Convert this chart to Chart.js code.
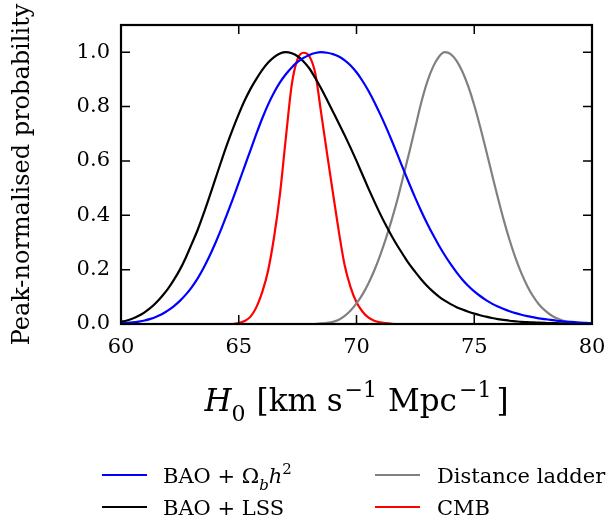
<!DOCTYPE html>
<html>
<head>
<meta charset="utf-8">
<script src="https://cdn.jsdelivr.net/npm/chart.js@4.4.0/dist/chart.umd.min.js"></script>
<style>
  html, body { margin: 0; padding: 0; background: #fff; }
</style>
</head>
<body>
<canvas id="h0-chart" width="608" height="523"></canvas>
<script>
// H0 grid (km/s/Mpc), 0.25 steps from 60 to 80
const h0Grid = [
  60.00, 60.25, 60.50, 60.75, 61.00, 61.25, 61.50, 61.75, 62.00, 62.25, 62.50, 62.75,
  63.00, 63.25, 63.50, 63.75, 64.00, 64.25, 64.50, 64.75, 65.00, 65.25, 65.50, 65.75,
  66.00, 66.25, 66.50, 66.75, 67.00, 67.25, 67.50, 67.75, 68.00, 68.25, 68.50, 68.75,
  69.00, 69.25, 69.50, 69.75, 70.00, 70.25, 70.50, 70.75, 71.00, 71.25, 71.50, 71.75,
  72.00, 72.25, 72.50, 72.75, 73.00, 73.25, 73.50, 73.75, 74.00, 74.25, 74.50, 74.75,
  75.00, 75.25, 75.50, 75.75, 76.00, 76.25, 76.50, 76.75, 77.00, 77.25, 77.50, 77.75,
  78.00, 78.25, 78.50, 78.75, 79.00, 79.25, 79.50, 79.75, 80.00
];

// peak-normalised probabilities
const baoOmegaB = [
  .003, .004, .006, .009, .013, .019, .027, .037, .050, .066, .085, .108,
  .135, .167, .205, .248, .296, .348, .403, .460, .520, .580, .640, .700,
  .757, .808, .852, .889, .919, .944, .964, .979, .990, .997, 1.00, .998,
  .993, .984, .970, .951, .926, .895, .859, .818, .773, .725, .674, .621,
  .567, .514, .463, .415, .370, .328, .289, .253, .220, .190, .163, .140,
  .120, .103, .088, .075, .064, .055, .047, .040, .034, .029, .025, .021,
  .018, .015, .012, .010, .008, .007, .005, .004, .003
];
const baoLss = [
  .008, .013, .020, .030, .043, .059, .079, .103, .130, .163, .200, .244,
  .294, .345, .404, .467, .532, .597, .660, .718, .772, .822, .865, .902,
  .935, .962, .982, .995, 1.00, .996, .985, .966, .940, .905, .866, .824,
  .781, .738, .694, .648, .600, .550, .500, .452, .406, .363, .323, .286,
  .252, .219, .191, .164, .140, .119, .101, .086, .073, .062, .053, .045,
  .038, .032, .027, .022, .018, .015, .012, .010, .008, .007, .006, .005,
  .004, .003, .003, .002, .002, .001, .001, .001, .001
];
const distanceLadder = [
  0, 0, 0, 0, 0, 0, 0, 0, 0, 0, 0, 0,
  0, 0, 0, 0, 0, 0, 0, 0, 0, 0, 0, 0,
  0, 0, 0, 0, 0, 0, 0, 0, 0, 0, .002, .004,
  .008, .016, .030, .050, .076, .108, .148, .196, .252, .315, .385, .462,
  .548, .635, .725, .815, .890, .946, .983, 1.00, .993, .968, .928, .873,
  .805, .726, .640, .552, .465, .383, .309, .243, .187, .140, .102, .072,
  .050, .033, .021, .013, .008, .004, .002, .001, 0
];
const cmb = [
  0, 0, 0, 0, 0, 0, 0, 0, 0, 0, 0, 0,
  0, 0, 0, 0, 0, 0, 0, 0, .003, .011, .027, .062,
  .118, .198, .320, .478, .685, .880, .975, .998, .985, .922, .776, .627,
  .482, .340, .215, .135, .080, .046, .024, .012, .006, .003, .001, 0,
  0, 0, 0, 0, 0, 0, 0, 0, 0, 0, 0, 0,
  0, 0, 0, 0, 0, 0, 0, 0, 0, 0, 0, 0,
  0, 0, 0, 0, 0, 0, 0, 0, 0
];

const seriesNames = ['BAO + Ωbh²', 'BAO + LSS', 'Distance ladder', 'CMB'];
const seriesColors = ['#0000ff', '#000000', '#808080', '#ff0000'];
const seriesValues = [baoOmegaB, baoLss, distanceLadder, cmb];

const xTicks = [60, 65, 70, 75, 80];
const yTicks = [0, 0.2, 0.4, 0.6, 0.8, 1.0];

const SERIF = '"DejaVu Serif", serif';

// label pieces with italics / sub / superscripts (mathtext look)
const legendPieces = [
  [{ t: 'BAO + Ω' }, { t: 'b', it: true, sub: true }, { t: 'h', it: true }, { t: '2', sup: true }],
  [{ t: 'BAO + LSS' }],
  [{ t: 'Distance ladder' }],
  [{ t: 'CMB' }]
];
const xTitlePieces = [
  { t: 'H', it: true }, { t: '0', sub: true }, { gap: 11 }, { t: '[km s' },
  { gap: 2 }, { t: '−1', sup: true }, { gap: 11 }, { t: 'Mpc' }, { gap: 2 },
  { t: '−1', sup: true }, { gap: 5 }, { t: ']' }
];

function pieceFont(p, size) {
  const s = (p.sub || p.sup) ? Math.round(size * 0.72) : size;
  return (p.it ? 'italic ' : '') + s + 'px ' + SERIF;
}

function richWidth(ctx, pieces, size) {
  let w = 0;
  pieces.forEach(p => {
    if (p.gap) { w += p.gap; return; }
    ctx.font = pieceFont(p, size);
    w += ctx.measureText(p.t).width;
  });
  return w;
}

function drawRich(ctx, pieces, x, y, size) {
  ctx.textAlign = 'left';
  ctx.textBaseline = 'alphabetic';
  pieces.forEach(p => {
    if (p.gap) { x += p.gap; return; }
    ctx.font = pieceFont(p, size);
    let dy = 0;
    if (p.sub) dy = size * 0.33;
    if (p.sup) dy = -size * 0.45;
    ctx.fillText(p.t, x, y + dy);
    x += ctx.measureText(p.t).width;
  });
}

const frameAndTicks = {
  id: 'frameAndTicks',
  afterDatasetsDraw(chart) {
    const { ctx, chartArea: a, scales } = chart;
    ctx.save();
    ctx.strokeStyle = '#000';
    ctx.lineWidth = 1.5;
    const len = 9;
    ctx.beginPath();
    xTicks.forEach(v => {
      const px = scales.x.getPixelForValue(v);
      ctx.moveTo(px, a.bottom); ctx.lineTo(px, a.bottom - len);
      ctx.moveTo(px, a.top); ctx.lineTo(px, a.top + len);
    });
    yTicks.forEach(v => {
      const py = scales.y.getPixelForValue(v);
      ctx.moveTo(a.left, py); ctx.lineTo(a.left + len, py);
      ctx.moveTo(a.right, py); ctx.lineTo(a.right - len, py);
    });
    ctx.stroke();
    ctx.lineWidth = 2.2;
    ctx.strokeRect(a.left, a.top, a.right - a.left, a.bottom - a.top);
    ctx.restore();
  }
};

const titleAndLegend = {
  id: 'titleAndLegend',
  afterDraw(chart) {
    const { ctx, chartArea: a } = chart;
    ctx.save();
    ctx.fillStyle = '#000';

    // x-axis title
    const tSize = 31;
    const tw = richWidth(ctx, xTitlePieces, tSize);
    drawRich(ctx, xTitlePieces, (a.left + a.right) / 2 - tw / 2, 411, tSize);

    // legend in two columns, column-major
    const cols = [{ hx: 102, tx: 163 }, { hx: 375, tx: 437 }];
    const rows = [475, 507];
    chart.data.datasets.forEach((ds, i) => {
      const c = cols[Math.floor(i / 2)];
      const y = rows[i % 2];
      ctx.strokeStyle = ds.borderColor;
      ctx.lineWidth = 2.2;
      ctx.beginPath();
      ctx.moveTo(c.hx, y);
      ctx.lineTo(c.hx + 45, y);
      ctx.stroke();
      ctx.fillStyle = '#000';
      drawRich(ctx, legendPieces[i], c.tx, y + 8, 21);
    });
    ctx.restore();
  }
};

function noPadding(scale) {
  scale.paddingLeft = 0;
  scale.paddingRight = 0;
  scale.paddingTop = 0;
  scale.paddingBottom = 0;
}

new Chart(document.getElementById('h0-chart'), {
  type: 'line',
  data: {
    datasets: seriesValues.map((vals, i) => ({
      label: seriesNames[i],
      data: h0Grid.map((h, j) => ({ x: h, y: vals[j] })),
      borderColor: seriesColors[i],
      backgroundColor: seriesColors[i],
      borderWidth: 2.2,
      pointRadius: 0,
      cubicInterpolationMode: 'monotone',
      fill: false
    }))
  },
  options: {
    responsive: false,
    animation: false,
    devicePixelRatio: 1,
    layout: { padding: { top: 25, right: 16, bottom: 0, left: 0 } },
    plugins: {
      legend: { display: false },
      tooltip: { enabled: false }
    },
    scales: {
      x: {
        type: 'linear',
        min: 60,
        max: 80,
        afterBuildTicks: s => { s.ticks = xTicks.map(v => ({ value: v })); },
        afterFit: s => { s.height = 199; noPadding(s); },
        grid: { display: false, drawTicks: false },
        border: { display: false },
        ticks: {
          color: '#000',
          font: { family: SERIF, size: 21 },
          padding: 11,
          maxRotation: 0,
          callback: v => String(v)
        }
      },
      y: {
        min: 0,
        max: 1.1,
        afterBuildTicks: s => { s.ticks = yTicks.map(v => ({ value: v })); },
        afterFit: s => { s.width = 121; noPadding(s); },
        grid: { display: false, drawTicks: false },
        border: { display: false },
        title: {
          display: true,
          text: 'Peak-normalised probability',
          color: '#000',
          font: { family: SERIF, size: 24 },
          padding: { top: 8, bottom: 0 }
        },
        ticks: {
          color: '#000',
          font: { family: SERIF, size: 21 },
          padding: 11,
          callback: v => v.toFixed(1)
        }
      }
    }
  },
  plugins: [frameAndTicks, titleAndLegend]
});
</script>
</body>
</html>
